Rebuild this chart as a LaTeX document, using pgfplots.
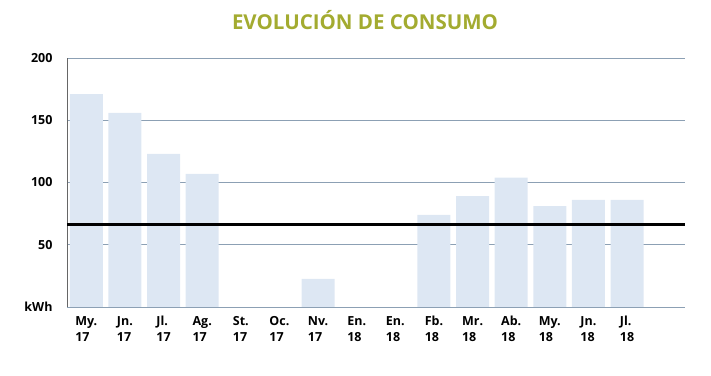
\documentclass[border=0pt]{standalone}
\usepackage{pgfplots}
\pgfplotsset{compat=1.18}
\usepackage{fontspec}
\setmainfont{Open Sans}
\definecolor{barblue}{RGB}{221,231,243}
\definecolor{gridc}{RGB}{140,160,180}
\definecolor{titlec}{RGB}{163,171,48}
\begin{document}
\begin{tikzpicture}
\path (0pt,0pt) rectangle (711pt,375pt);
\node[font=\fontsize{20.5}{22}\selectfont\bfseries, text=titlec] at (365pt,355pt) {EVOLUCIÓN DE CONSUMO};
\begin{axis}[
  at={(67pt,68pt)}, anchor=south west,
  scale only axis, width=618pt, height=249pt,
  xmin=-0.5, xmax=15.5, ymin=0, ymax=200,
  ytick={0,50,100,150,200},
  yticklabels={kWh,50,100,150,200},
  xtick={0,...,14},
  xticklabels={\strut My.\\17,\strut Jn.\\17,\strut Jl.\\17,\strut Ag.\\17,\strut St.\\17,\strut Oc.\\17,\strut Nv.\\17,\strut En.\\18,\strut En.\\18,\strut Fb.\\18,\strut Mr.\\18,\strut Ab.\\18,\strut My.\\18,\strut Jn.\\18,\strut Jl.\\18},
  xticklabel style={align=left, font=\fontsize{12.5}{16.5}\selectfont\bfseries, yshift=-3pt},
  yticklabel style={font=\fontsize{12.5}{15}\selectfont\bfseries, xshift=-11pt},
  major tick length=0pt,
  ymajorgrids, grid style={gridc, line width=0.9pt},
  axis line style={draw=none},
  axis on top=false,
  clip=false,
]
\addplot[ybar, bar width=0.857, fill=barblue, draw=none] coordinates {
(0,171) (1,156) (2,123) (3,107) (4,0) (5,0) (6,22.5) (7,0) (8,0) (9,74) (10,89) (11,104) (12,81) (13,86) (14,86)};
\draw[gridc, line width=0.9pt] (axis cs:-0.5,0) -- (axis cs:15.5,0);
\draw[gray!80!black, line width=0.9pt] (axis cs:-0.5,0) -- (axis cs:-0.5,200);
\addplot[black, line width=2.8pt, no marks] coordinates {(-0.5,66) (15.5,66)};
\end{axis}
\end{tikzpicture}
\end{document}
